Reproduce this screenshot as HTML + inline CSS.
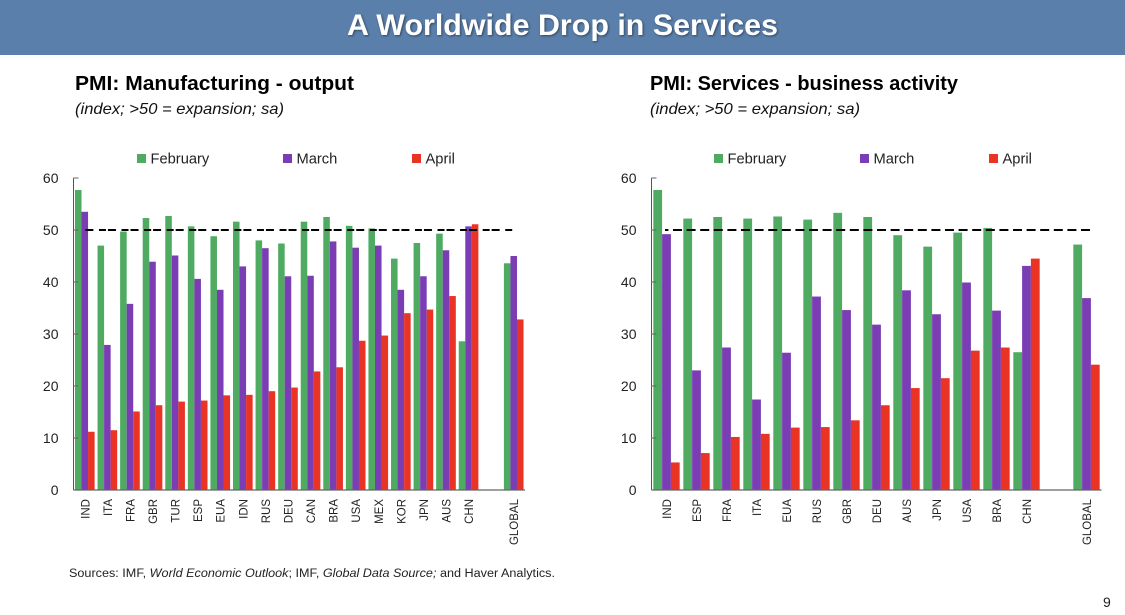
<!DOCTYPE html>
<html lang="en">
<head>
<meta charset="utf-8">
<title>A Worldwide Drop in Services</title>
<style>
html,body{margin:0;padding:0;background:#fff;width:1125px;height:615px;overflow:hidden}
svg{display:block;font-family:"Liberation Sans",sans-serif}
</style>
</head>
<body>
<svg id="slide" xmlns="http://www.w3.org/2000/svg" width="1125" height="615" viewBox="0 0 1125 615">
  <rect x="0" y="0" width="1125" height="615" fill="#ffffff"/>
  <rect x="0" y="0" width="1125" height="55" fill="#5a7fab"/>
  <text x="347" y="35" font-size="30" font-weight="bold" fill="#ffffff" textLength="431" lengthAdjust="spacingAndGlyphs" style="filter:drop-shadow(1px 1px 1px rgba(0,0,0,.45))">A Worldwide Drop in Services</text>

  <text x="75" y="90" font-size="20" font-weight="bold" fill="#000" textLength="279" lengthAdjust="spacingAndGlyphs">PMI: Manufacturing - output</text>
  <text x="75" y="114" font-size="16" font-style="italic" fill="#111" textLength="209" lengthAdjust="spacingAndGlyphs">(index; &gt;50 = expansion; sa)</text>

  <text x="650" y="90" font-size="20" font-weight="bold" fill="#000" textLength="308" lengthAdjust="spacingAndGlyphs">PMI: Services - business activity</text>
  <text x="650" y="114" font-size="16" font-style="italic" fill="#111" textLength="210" lengthAdjust="spacingAndGlyphs">(index; &gt;50 = expansion; sa)</text>

  <g id="manufacturing-chart"></g>
  <g id="services-chart"></g>

  <text x="69" y="577" font-size="11.5" fill="#222" textLength="486" lengthAdjust="spacingAndGlyphs">Sources: IMF, <tspan font-style="italic">World Economic Outlook</tspan>; IMF, <tspan font-style="italic">Global Data Source;</tspan> and Haver Analytics.</text>
  <text x="1103" y="607" font-size="14" fill="#222">9</text>
</svg>
<script>
// Value axis
const yTicks = [0, 10, 20, 30, 40, 50, 60];
const seriesNames = ['February', 'March', 'April'];

// Manufacturing PMI
const mfgCategories = ['IND','ITA','FRA','GBR','TUR','ESP','EUA','IDN','RUS','DEU','CAN','BRA','USA','MEX','KOR','JPN','AUS','CHN','','GLOBAL'];
const mfgFebruary = [57.7,47.0,49.7,52.3,52.7,50.7,48.8,51.6,48.0,47.4,51.6,52.5,50.8,50.3,44.5,47.5,49.3,28.6,null,43.6];
const mfgMarch = [53.5,27.9,35.8,43.9,45.1,40.6,38.5,43.0,46.5,41.1,41.2,47.8,46.6,47.0,38.5,41.1,46.1,50.7,null,45.0];
const mfgApril = [11.2,11.5,15.1,16.3,17.0,17.2,18.2,18.3,19.0,19.7,22.8,23.6,28.7,29.7,34.0,34.7,37.3,51.1,null,32.8];
const mfgThreshold = [50,50,50,50,50,50,50,50,50,50,50,50,50,50,50,50,50,50,50,50];

// Services PMI
const svcCategories = ['IND','ESP','FRA','ITA','EUA','RUS','GBR','DEU','AUS','JPN','USA','BRA','CHN','','GLOBAL'];
const svcFebruary = [57.7,52.2,52.5,52.2,52.6,52.0,53.3,52.5,49.0,46.8,49.5,50.4,26.5,null,47.2];
const svcMarch = [49.2,23.0,27.4,17.4,26.4,37.2,34.6,31.8,38.4,33.8,39.9,34.5,43.1,null,36.9];
const svcApril = [5.3,7.1,10.2,10.8,12.0,12.1,13.4,16.3,19.6,21.5,26.8,27.4,44.5,null,24.1];
const svcThreshold = [50,50,50,50,50,50,50,50,50,50,50,50,50,50,50];

const SVG_NS = 'http://www.w3.org/2000/svg';
const seriesColors = ['#4fab62', '#7a3db3', '#e83325'];

function make(parent, tag, attrs, text) {
  const el = document.createElementNS(SVG_NS, tag);
  Object.keys(attrs).forEach(function (k) { el.setAttribute(k, attrs[k]); });
  if (text !== undefined) el.textContent = text;
  parent.appendChild(el);
  return el;
}

function drawChart(root, prefix, cfg, categories, seriesList, threshold) {
  const slot = (cfg.right - cfg.left) / categories.length;
  const barW = slot * cfg.barRatio;
  const yMax = yTicks[yTicks.length - 1];
  const yScale = function (v) { return cfg.bottom - (v / yMax) * (cfg.bottom - cfg.top); };
  const xCenter = function (i) { return cfg.left + slot * (i + 0.5); };

  // Bars
  seriesList.forEach(function (values, s) {
    values.forEach(function (v, i) {
      if (v === null) return;
      const bar = make(root, 'rect', {
        x: (xCenter(i) + (s - 1.5) * barW).toFixed(2),
        y: yScale(v).toFixed(2),
        width: barW.toFixed(2),
        height: (cfg.bottom - yScale(v)).toFixed(2),
        fill: seriesColors[s]
      });
      
      
    });
  });

  // Axes
  const yAxis = make(root, 'line', { x1: cfg.left, x2: cfg.left, y1: cfg.top, y2: cfg.bottom, stroke: '#555', 'stroke-width': 1 });
  
  
  const xAxis = make(root, 'line', { x1: cfg.left, x2: cfg.right, y1: cfg.bottom, y2: cfg.bottom, stroke: '#666', 'stroke-width': 1.2 });
  
  

  // Y ticks and labels
  yTicks.forEach(function (t) {
    const tick = make(root, 'line', { x1: cfg.left, x2: cfg.left + 5, y1: yScale(t), y2: yScale(t), stroke: '#666', 'stroke-width': 1 });
    
    
    const label = make(root, 'text', { x: cfg.left - 15, y: yScale(t) + 5, 'font-size': 14, fill: '#222', 'text-anchor': 'end' }, String(t));
    
    
  });

  // Category labels
  categories.forEach(function (c, i) {
    if (!c) return;
    const bx = xCenter(i) + 4.5;
    const label = make(root, 'text', { transform: 'translate(' + bx.toFixed(2) + ',' + (cfg.bottom + 9) + ') rotate(-90)', 'font-size': 11.5, fill: '#222', 'text-anchor': 'end' }, c);
    
    
  });

  // Threshold line
  const lastIndex = threshold.length - 1;
  let d = 'M' + (xCenter(0) - cfg.lineExtendStart).toFixed(2) + ' ' + yScale(threshold[0]).toFixed(2);
  threshold.forEach(function (v, i) {
    if (i === 0) return;
    const px = i === lastIndex ? xCenter(i) + cfg.lineExtendEnd : xCenter(i);
    d += 'L' + px.toFixed(2) + ' ' + yScale(v).toFixed(2);
  });
  const line = make(root, 'path', { d: d, fill: 'none', stroke: '#000', 'stroke-width': 2, 'stroke-dasharray': cfg.dash, 'stroke-dashoffset': cfg.dashOffset });
  
  

  // Legend
  seriesNames.forEach(function (name, s) {
    const g = make(root, 'g', {});
    
    
    const swatch = make(g, 'rect', { x: cfg.legendX[s], y: 154, width: 9, height: 9, fill: seriesColors[s] });
    
    
    const text = make(g, 'text', { x: cfg.legendX[s] + 13.5, y: 163.5, 'font-size': 14.7, fill: '#222' }, name);
    
    
  });
}

drawChart(document.getElementById('manufacturing-chart'), 'manufacturing',
  { left: 73.5, right: 525, top: 178, bottom: 490, barRatio: 0.29, dash: '7 2 8 5.57', dashOffset: 8.4, lineExtendStart: 0, lineExtendEnd: 0, legendX: [137, 283, 412] },
  mfgCategories, [mfgFebruary, mfgMarch, mfgApril], mfgThreshold);

drawChart(document.getElementById('services-chart'), 'services',
  { left: 651.5, right: 1101.5, top: 178, bottom: 490, barRatio: 0.293, dash: '9 4.6', dashOffset: 5.6, lineExtendStart: 1.5, lineExtendEnd: 3.5, legendX: [714, 860, 989] },
  svcCategories, [svcFebruary, svcMarch, svcApril], svcThreshold);
</script>
</body>
</html>
